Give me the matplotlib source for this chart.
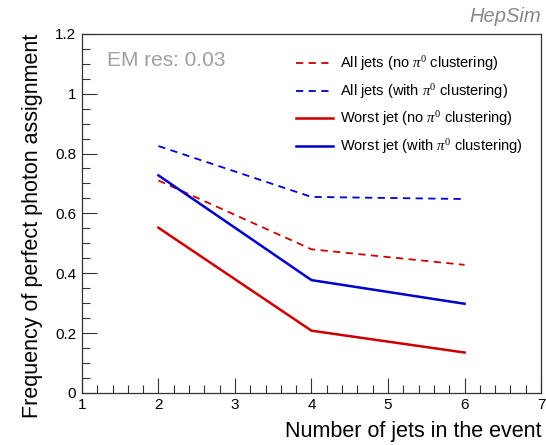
import numpy as np
import matplotlib.pyplot as plt
from matplotlib.ticker import MultipleLocator

plt.rcParams['font.family'] = ['Liberation Sans', 'DejaVu Sans']
plt.rcParams['mathtext.fontset'] = 'custom'
plt.rcParams['mathtext.rm'] = 'Liberation Serif'
plt.rcParams['mathtext.it'] = 'Liberation Serif:italic'

n_jets = [2, 4, 6]
all_no_pi0 = [0.710, 0.480, 0.428]
all_with_pi0 = [0.825, 0.655, 0.648]
worst_no_pi0 = [0.552, 0.208, 0.135]
worst_with_pi0 = [0.727, 0.377, 0.298]

labels = [
    r"All jets (no $\pi^0$ clustering)",
    r"All jets (with $\pi^0$ clustering)",
    r"Worst jet (no $\pi^0$ clustering)",
    r"Worst jet (with $\pi^0$ clustering)",
]

RED = "#cc0000"
BLUE = "#0000cc"

fig = plt.figure(figsize=(5.46, 4.45), dpi=100)
ax = fig.add_axes([0.150, 0.117, 0.841, 0.807])

ax.plot(n_jets, all_no_pi0, color=RED, lw=1.3, ls=(0, (4, 3)), label=labels[0])
ax.plot(n_jets, all_with_pi0, color=BLUE, lw=1.3, ls=(0, (4, 3)), label=labels[1])
ax.plot(n_jets, worst_no_pi0, color=RED, lw=1.8, label=labels[2])
ax.plot(n_jets, worst_with_pi0, color=BLUE, lw=1.8, label=labels[3])

ax.set_xlim(1, 7)
ax.set_ylim(0, 1.2)
ax.xaxis.set_major_locator(MultipleLocator(1))
ax.xaxis.set_minor_locator(MultipleLocator(0.2))
ax.yaxis.set_major_locator(MultipleLocator(0.2))
ax.yaxis.set_minor_locator(MultipleLocator(0.05))
ax.set_yticks([0, 0.2, 0.4, 0.6, 0.8, 1.0, 1.2])
ax.set_yticklabels(["0", "0.2", "0.4", "0.6", "0.8", "1", "1.2"])
ax.tick_params(which='both', direction='in', top=False, right=False,
               labelsize=11, width=0.8, color='#333333')
ax.tick_params(which='major', length=11, pad=4)
ax.tick_params(which='minor', length=6)
for s in ax.spines.values():
    s.set_linewidth(0.9)
    s.set_color('#333333')

ax.set_xlabel("Number of jets in the event", fontsize=15.5, loc='right', labelpad=6)
ax.set_ylabel("Frequency of perfect photon assignment", fontsize=15.5, loc='top', labelpad=9)

ax.text(0.054, 0.925, "EM res: 0.03", transform=ax.transAxes, fontsize=15,
        color='#a0a0a0', va='center', ha='left')
fig.text(0.991, 0.962, "HepSim", fontsize=14.5, color='#888888', style='italic',
         ha='right', va='center')

ax.legend(frameon=False, loc='upper left', bbox_to_anchor=(0.438, 0.98),
          fontsize=10.5, handlelength=2.5, handletextpad=0.5, labelspacing=0.6)

fig.savefig("out.png", dpi=100)
